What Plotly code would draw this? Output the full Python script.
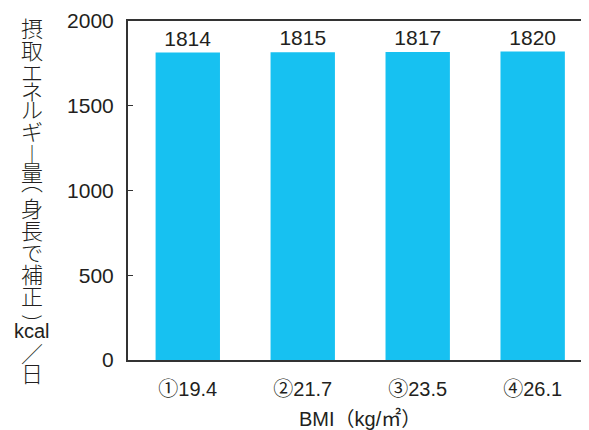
import plotly.graph_objects as go

categories = ["①19.4", "②21.7", "③23.5", "④26.1"]
energy = [1814, 1815, 1817, 1820]
y_ticks = [0, 500, 1000, 1500, 2000]
y_title_chars = ["摂", "取", "エ", "ネ", "ル", "ギ", "︱", "量", "⌒", "身", "長", "で", "補", "正", "‿", "kcal", "／", "日"]
x_title = "BMI（kg/㎡）"

OFF = 8  # page body margin
PL, PR, PT, PB = 128, 589, 21, 360  # plot area in page pixels
W, H = 589 - OFF, 430 - OFF
L, T = PL - OFF, PT - OFF
R, B = W - (PR - OFF), H - (PB - OFF)
FONT = "Liberation Sans, Noto Sans CJK JP"
CJK = "Noto Sans CJK JP, DejaVu Sans"
TXT = "#231f20"
BAR = "#17c1f1"

fig = go.Figure()
fig.add_trace(go.Bar(
    x=categories, y=energy, marker=dict(color=BAR, line=dict(width=0)),
    width=0.56, text=[str(v) for v in energy], textposition="outside",
    textfont=dict(size=21, color=TXT, family=FONT), cliponaxis=False,
))

plot_h = PB - PT
plot_w = PR - PL

def py(p):
    return (PB - p) / plot_h

def px(p):
    return (p - PL) / plot_w

# vertical y-axis title, character by character
ys = [27, 49, 71, 90, 108, 130, 152, 171, 196, 207, 229, 251, 273, 295, 304, 331, 352, 372]
annotations = []
for ch, yy in zip(y_title_chars, ys):
    annotations.append(dict(
        text=ch, x=px(32), y=py(yy), xref="paper", yref="paper",
        xanchor="center", yanchor="middle", showarrow=False,
        font=dict(size=20 if ch == "kcal" else 22, color=TXT,
                  family=FONT if ch == "kcal" else CJK, weight=300),
    ))
annotations.append(dict(
    text=x_title, x=px(360), y=py(419), xref="paper", yref="paper",
    xanchor="center", yanchor="middle", showarrow=False,
    font=dict(size=20, color=TXT, family=FONT),
))

fig.update_layout(
    width=W, height=H, margin=dict(l=L, r=R, t=T, b=B),
    paper_bgcolor="white", plot_bgcolor="white", showlegend=False,
    font=dict(family=FONT, color=TXT, size=20),
    annotations=annotations,
    xaxis=dict(
        range=[-0.52, 3.49], showline=True, linecolor="#333333", linewidth=2,
        mirror=True, ticks="", showgrid=False, zeroline=False,
        ticklabelstandoff=10,
        tickfont=dict(size=20, color=TXT, family=FONT),
    ),
    yaxis=dict(
        range=[0, 2000], tickvals=y_ticks, showline=True, linecolor="#333333",
        linewidth=2, ticks="inside", ticklen=5, tickcolor="#333333",
        showgrid=False, zeroline=False, ticklabelstandoff=8,
        tickfont=dict(size=21, color=TXT, family=FONT),
    ),
)

fig.write_html("out.html")
